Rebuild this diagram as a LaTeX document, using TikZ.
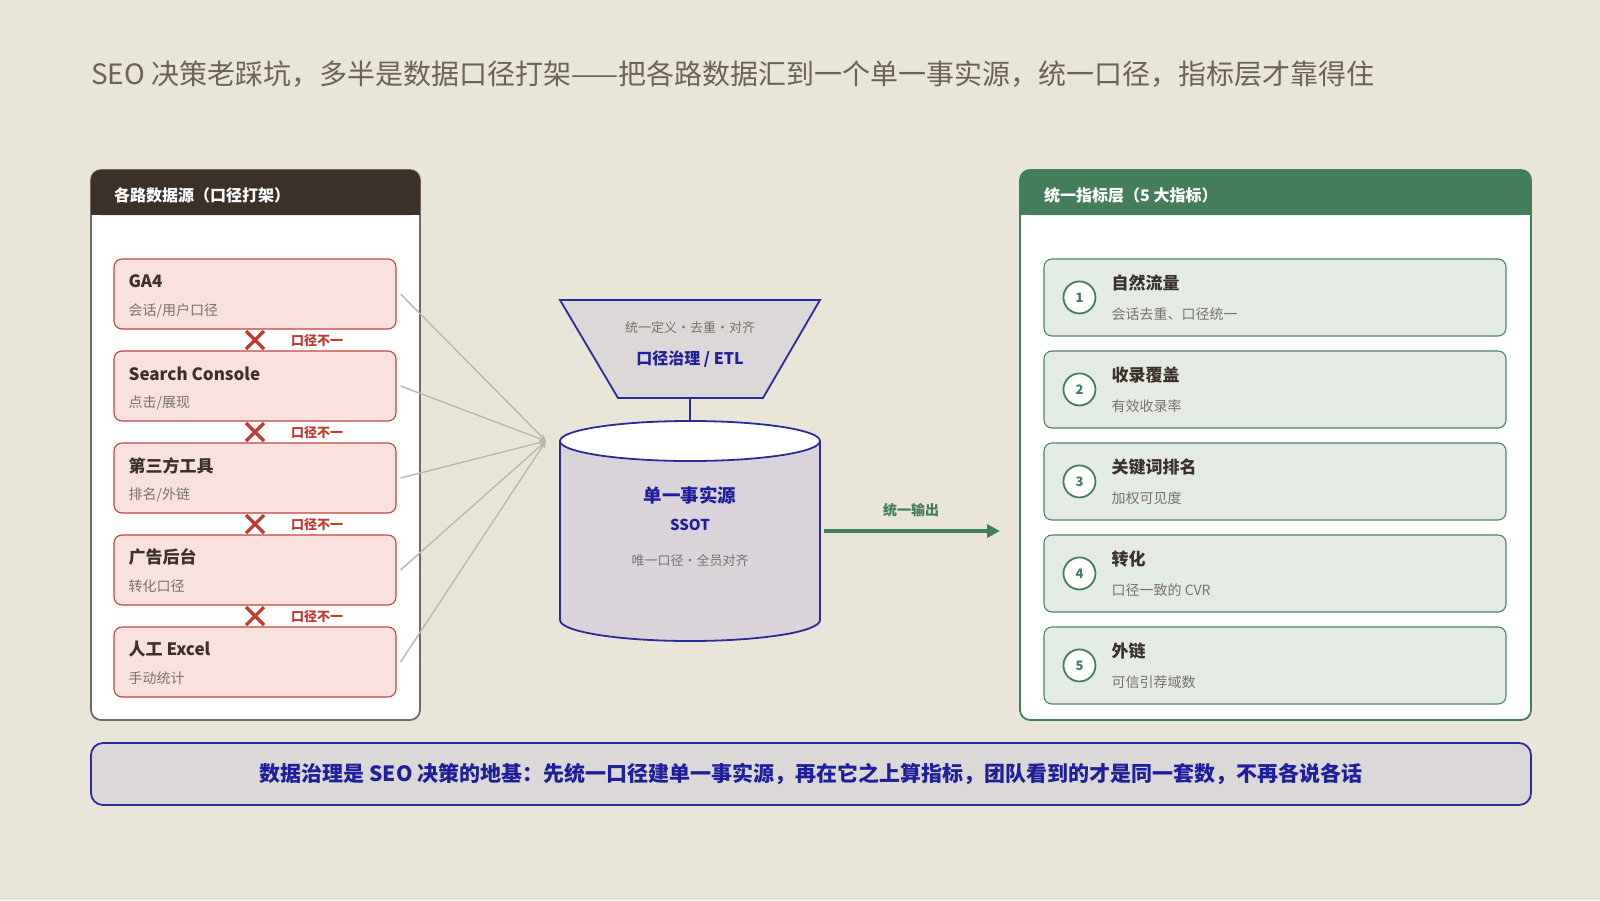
\documentclass[tikz,border=0pt]{standalone}
\usepackage{fontspec}
\setmainfont{Noto Sans CJK SC}
\usepackage{tikz}
\usetikzlibrary{arrows.meta, positioning}

\definecolor{paper}{HTML}{E9E5D8}
\definecolor{titlegray}{HTML}{6B6357}
\definecolor{darkhdr}{HTML}{3B3129}
\definecolor{leftline}{HTML}{6F6A63}
\definecolor{srcfill}{HTML}{F8E1DE}
\definecolor{srcline}{HTML}{C4443C}
\definecolor{xred}{HTML}{C23A30}
\definecolor{subgray}{HTML}{7A726A}
\definecolor{feedgray}{HTML}{BDB8AD}
\definecolor{navy}{HTML}{2B2B9E}
\definecolor{navytext}{HTML}{1F1F9C}
\definecolor{funnelfill}{HTML}{DCD8D7}
\definecolor{cylfill}{HTML}{DAD4DA}
\definecolor{green}{HTML}{437D5A}
\definecolor{kpifill}{HTML}{E4EBE5}
\definecolor{kpiline}{HTML}{4F8263}

\begin{document}
\begin{tikzpicture}[
    x=1pt, y=-1pt,
    every node/.style={inner sep=0pt},
    panel/.style={fill=white, rounded corners=10pt, line width=1.8pt, minimum width=329pt, minimum height=550pt},
    srcbox/.style={draw=srcline, fill=srcfill, rounded corners=8pt, line width=1.1pt, minimum width=282pt, minimum height=70pt},
    kpibox/.style={draw=kpiline, fill=kpifill, rounded corners=8pt, line width=1.1pt, minimum width=462pt, minimum height=77pt},
    hdrtext/.style={anchor=west, text=white, font=\fontsize{16}{19}\selectfont\bfseries},
    itemtitle/.style={anchor=west, text=darkhdr, font=\fontsize{17}{20}\selectfont\bfseries},
    itemsub/.style={anchor=west, text=subgray, font=\fontsize{14}{17}\selectfont},
    numcircle/.style={circle, draw=green, fill=white, line width=1.8pt, minimum size=32pt, text=green, font=\fontsize{13}{15}\selectfont\bfseries},
    clash/.style={anchor=west, text=xred, font=\fontsize{13}{15}\selectfont\bfseries},
    xmark/.style={draw=xred, line width=3.2pt},
    feed/.style={draw=feedgray, line width=1.4pt, -{Stealth[length=7pt, width=6pt]}},
    navyline/.style={draw=navy, line width=1.8pt}
]

% Canvas
\fill[paper] (0,0) rectangle (1600,900);
\useasboundingbox (0,0) rectangle (1600,900);

% Title
\node[anchor=west, text=titlegray, font=\fontsize{28}{32}\selectfont] (title) at (91,74)
    {SEO 决策老踩坑，多半是数据口径打架——把各路数据汇到一个单一事实源，统一口径，指标层才靠得住};

% Left panel: sources
\node[panel, draw=leftline] (srcpanel) at (255.5,445) {};
\fill[darkhdr, rounded corners=10pt] (91,170) rectangle (420,215);
\fill[darkhdr] (91,200) rectangle (420,215);
\node[hdrtext] (srchdr) at (114,195) {各路数据源（口径打架）};

\node[srcbox] (ga4) at (255,294) {};
\node[itemtitle] (ga4t) at ([shift={(15,23)}]ga4.north west) {GA4};
\node[itemsub] (ga4s) at ([shift={(15,52)}]ga4.north west) {会话/用户口径};

\node[srcbox, below=20.9pt of ga4] (gsc) {};
\node[itemtitle] (gsct) at ([shift={(15,23)}]gsc.north west) {Search Console};
\node[itemsub] (gscs) at ([shift={(15,52)}]gsc.north west) {点击/展现};

\node[srcbox, below=20.9pt of gsc] (tool) {};
\node[itemtitle] (toolt) at ([shift={(15,23)}]tool.north west) {第三方工具};
\node[itemsub] (tools) at ([shift={(15,52)}]tool.north west) {排名/外链};

\node[srcbox, below=20.9pt of tool] (ads) {};
\node[itemtitle] (adst) at ([shift={(15,23)}]ads.north west) {广告后台};
\node[itemsub] (adss) at ([shift={(15,52)}]ads.north west) {转化口径};

\node[srcbox, below=20.9pt of ads] (excel) {};
\node[itemtitle] (excelt) at ([shift={(15,23)}]excel.north west) {人工 Excel};
\node[itemsub] (excels) at ([shift={(15,52)}]excel.north west) {手动统计};

% Mismatch marks
\draw[xmark] (246,331) -- (264,349) (246,349) -- (264,331);
\node[clash] (clash1) at (291,341) {口径不一};
\draw[xmark] (246,423) -- (264,441) (246,441) -- (264,423);
\node[clash] (clash2) at (291,433) {口径不一};
\draw[xmark] (246,515) -- (264,533) (246,533) -- (264,515);
\node[clash] (clash3) at (291,525) {口径不一};
\draw[xmark] (246,607) -- (264,625) (246,625) -- (264,607);
\node[clash] (clash4) at (291,617) {口径不一};

% Funnel: governance / ETL
\filldraw[navyline, fill=funnelfill] (560,300) -- (820,300) -- (763,398) -- (618,398) -- cycle;
\node[text=subgray, font=\fontsize{13}{15}\selectfont] (etlnote) at (690,328) {统一定义・去重・对齐};
\node[text=navytext, font=\fontsize{16}{19}\selectfont\bfseries] (etl) at (690,359) {口径治理 / ETL};
\coordinate (etlout) at (690,398);
\coordinate (cyltop) at (690,421);
\draw[navyline] (etlout) -- (cyltop);

% Cylinder: single source of truth
\fill[cylfill] (560,441) -- (560,620) arc[start angle=180, end angle=0, x radius=130, y radius=21] -- (820,441) -- cycle;
\draw[navyline] (560,441) -- (560,620) arc[start angle=180, end angle=0, x radius=130, y radius=21] -- (820,441);
\draw[navyline, fill=white] (690,441) ellipse [x radius=130, y radius=20];
\node[text=navytext, font=\fontsize{18.5}{22}\selectfont\bfseries] (ssot) at (690,495) {单一事实源};
\node[text=navytext, font=\fontsize{15}{18}\selectfont\bfseries] (ssotabbr) at (690,525) {SSOT};
\node[text=subgray, font=\fontsize{13}{15}\selectfont] (ssotnote) at (690,561) {唯一口径・全员对齐};

% Feeds into the hub
\coordinate (hub) at (546,441);
\draw[feed] ([xshift=4pt]ga4.east) -- (hub);
\draw[feed] ([xshift=4pt]gsc.east) -- (hub);
\draw[feed] ([xshift=4pt]tool.east) -- (hub);
\draw[feed] ([xshift=4pt]ads.east) -- (hub);
\draw[feed] ([xshift=4pt]excel.east) -- (hub);

% Output arrow
\coordinate (outstart) at (824,531);
\coordinate (outtip) at (1000,531);
\draw[draw=green, line width=4pt, -{Triangle[length=13pt, width=13pt]}] (outstart) -- (outtip);
\node[text=green, font=\fontsize{14}{16}\selectfont\bfseries] (outlabel) at (911,510) {统一输出};

% Right panel: metrics
\node[panel, draw=green, minimum width=511pt] (kpipanel) at (1275.5,445) {};
\fill[green, rounded corners=10pt] (1020,170) rectangle (1531,215);
\fill[green] (1020,200) rectangle (1531,215);
\node[hdrtext] (kpihdr) at (1044,195) {统一指标层（5 大指标）};

\node[kpibox] (kpi1) at (1275,297.5) {};
\node[numcircle] (n1) at ([shift={(36,39)}]kpi1.north west) {1};
\node[itemtitle] (kpi1t) at ([shift={(68,25)}]kpi1.north west) {自然流量};
\node[itemsub] (kpi1s) at ([shift={(68,56)}]kpi1.north west) {会话去重、口径统一};

\node[kpibox, below=13.9pt of kpi1] (kpi2) {};
\node[numcircle] (n2) at ([shift={(36,39)}]kpi2.north west) {2};
\node[itemtitle] (kpi2t) at ([shift={(68,25)}]kpi2.north west) {收录覆盖};
\node[itemsub] (kpi2s) at ([shift={(68,56)}]kpi2.north west) {有效收录率};

\node[kpibox, below=13.9pt of kpi2] (kpi3) {};
\node[numcircle] (n3) at ([shift={(36,39)}]kpi3.north west) {3};
\node[itemtitle] (kpi3t) at ([shift={(68,25)}]kpi3.north west) {关键词排名};
\node[itemsub] (kpi3s) at ([shift={(68,56)}]kpi3.north west) {加权可见度};

\node[kpibox, below=13.9pt of kpi3] (kpi4) {};
\node[numcircle] (n4) at ([shift={(36,39)}]kpi4.north west) {4};
\node[itemtitle] (kpi4t) at ([shift={(68,25)}]kpi4.north west) {转化};
\node[itemsub] (kpi4s) at ([shift={(68,56)}]kpi4.north west) {口径一致的 CVR};

\node[kpibox, below=13.9pt of kpi4] (kpi5) {};
\node[numcircle] (n5) at ([shift={(36,39)}]kpi5.north west) {5};
\node[itemtitle] (kpi5t) at ([shift={(68,25)}]kpi5.north west) {外链};
\node[itemsub] (kpi5s) at ([shift={(68,56)}]kpi5.north west) {可信引荐域数};

% Takeaway banner
\node[draw=navy, fill=funnelfill, line width=1.8pt, rounded corners=12pt, minimum width=1440pt, minimum height=62pt,
      text=navytext, font=\fontsize{21}{25}\selectfont\bfseries] (takeaway) at (811,774)
    {数据治理是 SEO 决策的地基：先统一口径建单一事实源，再在它之上算指标，团队看到的才是同一套数，不再各说各话};

\end{tikzpicture}
\end{document}
